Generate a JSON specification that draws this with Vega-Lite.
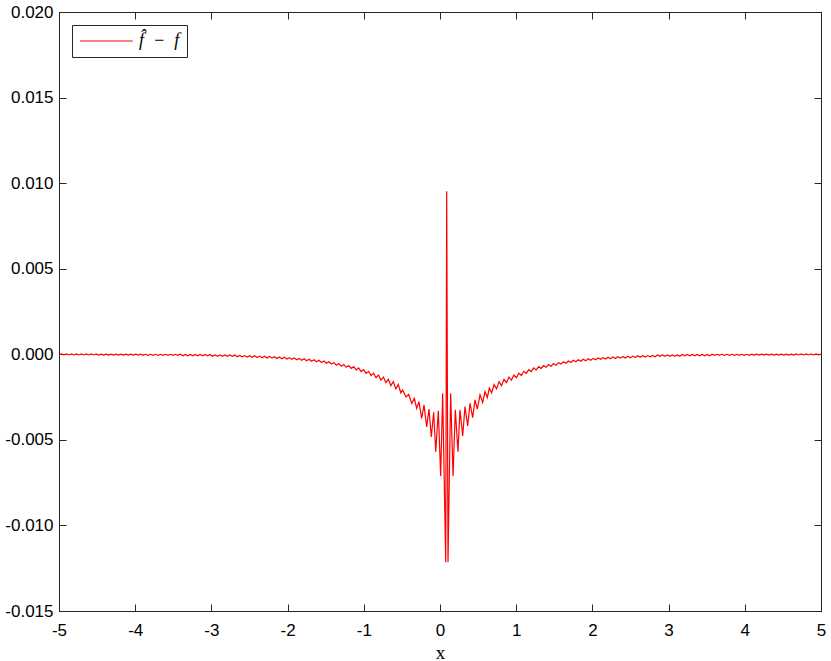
{
"$schema": "https://vega.github.io/schema/vega-lite/v6.json",
"width": 762, "height": 599,
"autosize": {"type": "none"},
"padding": {"left": 59, "top": 12, "right": 10, "bottom": 50},
"background": "white",
"config": {
 "view": {"stroke": "#262626", "strokeWidth": 1},
 "axis": {"grid": false, "domainColor": "#262626", "tickColor": "#262626", "tickSize": -7, "labelFont": "Liberation Sans", "labelFontSize": 17, "labelColor": "#000000", "labelFlush": false, "labelOverlap": false, "titleFont": "Liberation Serif", "titleFontSize": 19, "titleFontWeight": "normal", "titleColor": "#000000"}
},
"data": {"values": [
{"x":-5,"y":-0.00004},{"x":-4.9675,"y":0.00002},{"x":-4.935,"y":-0.00004},{"x":-4.9025,"y":0.00002},{"x":-4.87,"y":-0.00004},{"x":-4.8375,"y":0.00002},{"x":-4.805,"y":-0.00004},{"x":-4.7725,"y":0.00002},{"x":-4.74,"y":-0.00004},{"x":-4.7075,"y":0.00002},{"x":-4.675,"y":-0.00004},{"x":-4.6425,"y":0.00002},{"x":-4.61,"y":-0.00004},{"x":-4.5775,"y":0.00002},{"x":-4.545,"y":-0.00004},{"x":-4.5125,"y":0.00002},
{"x":-4.48,"y":-0.00005},{"x":-4.4475,"y":0.00001},{"x":-4.415,"y":-0.00005},{"x":-4.3825,"y":0.00001},{"x":-4.35,"y":-0.00005},{"x":-4.3175,"y":0.00001},{"x":-4.285,"y":-0.00005},{"x":-4.2525,"y":0.00001},{"x":-4.22,"y":-0.00005},{"x":-4.1875,"y":0.00001},{"x":-4.155,"y":-0.00005},{"x":-4.1225,"y":0.00001},{"x":-4.09,"y":-0.00005},{"x":-4.0575,"y":0.00001},{"x":-4.025,"y":-0.00005},{"x":-3.9925,"y":0.00001},{"x":-3.96,"y":-0.00005},{"x":-3.9275,"y":0.00001},
{"x":-3.895,"y":-0.00006},{"x":-3.8625,"y":0},{"x":-3.83,"y":-0.00006},{"x":-3.7975,"y":0},{"x":-3.765,"y":-0.00006},{"x":-3.7325,"y":0},{"x":-3.7,"y":-0.00006},{"x":-3.6675,"y":0},{"x":-3.635,"y":-0.00006},{"x":-3.6025,"y":0},{"x":-3.57,"y":-0.00006},{"x":-3.5375,"y":0},{"x":-3.505,"y":-0.00006},{"x":-3.4725,"y":0},{"x":-3.44,"y":-0.00006},{"x":-3.4075,"y":0},
{"x":-3.375,"y":-0.00009},{"x":-3.3425,"y":-0.00001},{"x":-3.31,"y":-0.00009},{"x":-3.2775,"y":-0.00001},{"x":-3.245,"y":-0.00009},{"x":-3.2125,"y":-0.00001},{"x":-3.18,"y":-0.00009},{"x":-3.1475,"y":-0.00001},{"x":-3.115,"y":-0.00009},{"x":-3.0825,"y":-0.00001},{"x":-3.05,"y":-0.00009},{"x":-3.0175,"y":-0.00001},
{"x":-2.985,"y":-0.00012},{"x":-2.9525,"y":-0.00004},{"x":-2.92,"y":-0.00012},{"x":-2.8875,"y":-0.00004},{"x":-2.855,"y":-0.00012},{"x":-2.8225,"y":-0.00004},{"x":-2.79,"y":-0.00012},{"x":-2.7575,"y":-0.00004},{"x":-2.725,"y":-0.00012},{"x":-2.6925,"y":-0.00004},
{"x":-2.66,"y":-0.00014},{"x":-2.6275,"y":-0.000065},{"x":-2.595,"y":-0.00015},{"x":-2.5625,"y":-0.000075},{"x":-2.53,"y":-0.00016},{"x":-2.4975,"y":-0.000085},{"x":-2.465,"y":-0.000175},{"x":-2.4325,"y":-0.00009},{"x":-2.4,"y":-0.000185},{"x":-2.3675,"y":-0.000105},{"x":-2.335,"y":-0.0002},{"x":-2.3025,"y":-0.000115},{"x":-2.27,"y":-0.000215},{"x":-2.2375,"y":-0.00013},{"x":-2.205,"y":-0.000225},{"x":-2.1725,"y":-0.000145},{"x":-2.14,"y":-0.000245},{"x":-2.1075,"y":-0.00016},{"x":-2.075,"y":-0.00026},{"x":-2.0425,"y":-0.000175},{"x":-2.01,"y":-0.000275},{"x":-1.9775,"y":-0.000195},{"x":-1.945,"y":-0.000295},{"x":-1.9125,"y":-0.000215},{"x":-1.88,"y":-0.000315},{"x":-1.8475,"y":-0.00024},{"x":-1.815,"y":-0.00035},{"x":-1.7825,"y":-0.00026},{"x":-1.75,"y":-0.000375},{"x":-1.7175,"y":-0.00029},{"x":-1.685,"y":-0.00041},{"x":-1.6525,"y":-0.000315},{"x":-1.62,"y":-0.00044},{"x":-1.5875,"y":-0.00035},{"x":-1.555,"y":-0.00048},{"x":-1.5225,"y":-0.00039},{"x":-1.49,"y":-0.00052},{"x":-1.4575,"y":-0.000435},{"x":-1.425,"y":-0.000575},{"x":-1.3925,"y":-0.00049},{"x":-1.36,"y":-0.000635},{"x":-1.3275,"y":-0.000545},{"x":-1.295,"y":-0.0007},{"x":-1.2625,"y":-0.0006},{"x":-1.23,"y":-0.00076},{"x":-1.1975,"y":-0.00066},{"x":-1.165,"y":-0.00083},{"x":-1.1325,"y":-0.000725},{"x":-1.1,"y":-0.00091},{"x":-1.0675,"y":-0.0008},{"x":-1.035,"y":-0.00101},{"x":-1.0025,"y":-0.0009},{"x":-0.97,"y":-0.00112},{"x":-0.9375,"y":-0.000995},{"x":-0.905,"y":-0.00124},{"x":-0.8725,"y":-0.0011},{"x":-0.84,"y":-0.00137},{"x":-0.8075,"y":-0.00121},{"x":-0.775,"y":-0.001505},{"x":-0.7425,"y":-0.00133},{"x":-0.71,"y":-0.00165},{"x":-0.6775,"y":-0.00146},{"x":-0.645,"y":-0.00183},{"x":-0.6125,"y":-0.0016},{"x":-0.58,"y":-0.00202},{"x":-0.5475,"y":-0.00177},{"x":-0.515,"y":-0.00225},
{"x":-0.49,"y":-0.00208},{"x":-0.446,"y":-0.00249},{"x":-0.411,"y":-0.00234},{"x":-0.371,"y":-0.00287},{"x":-0.337,"y":-0.00257},{"x":-0.306,"y":-0.00316},{"x":-0.276,"y":-0.00277},{"x":-0.24,"y":-0.00375},{"x":-0.21,"y":-0.00296},{"x":-0.175,"y":-0.00424},{"x":-0.144,"y":-0.0032},{"x":-0.114,"y":-0.00483},{"x":-0.083,"y":-0.00339},{"x":-0.056,"y":-0.0057},{"x":-0.022,"y":-0.0033},{"x":0.009,"y":-0.00712},{"x":0.035,"y":-0.00228},{"x":0.075,"y":-0.01215},{"x":0.088,"y":0.00952},{"x":0.105,"y":-0.01215},{"x":0.14,"y":-0.00228},{"x":0.171,"y":-0.00712},{"x":0.201,"y":-0.00325},{"x":0.236,"y":-0.00569},{"x":0.262,"y":-0.00325},{"x":0.298,"y":-0.00477},{"x":0.328,"y":-0.00306},{"x":0.363,"y":-0.00419},{"x":0.394,"y":-0.00286},{"x":0.429,"y":-0.0037},{"x":0.459,"y":-0.00266},{"x":0.49,"y":-0.00321},{"x":0.525,"y":-0.00237},{"x":0.56,"y":-0.00282},{"x":0.591,"y":-0.00218},{"x":0.621,"y":-0.00253},{"x":0.647,"y":-0.00198},
{"x":0.6775,"y":-0.00225},{"x":0.71,"y":-0.00177},{"x":0.7425,"y":-0.00202},{"x":0.775,"y":-0.0016},{"x":0.8075,"y":-0.00183},{"x":0.84,"y":-0.00146},{"x":0.8725,"y":-0.00165},{"x":0.905,"y":-0.00133},{"x":0.9375,"y":-0.001505},{"x":0.97,"y":-0.00121},{"x":1.0025,"y":-0.00137},{"x":1.035,"y":-0.0011},{"x":1.0675,"y":-0.00124},{"x":1.1,"y":-0.000995},{"x":1.1325,"y":-0.00112},{"x":1.165,"y":-0.0009},{"x":1.1975,"y":-0.00101},{"x":1.23,"y":-0.0008},{"x":1.2625,"y":-0.00091},{"x":1.295,"y":-0.000725},{"x":1.3275,"y":-0.00083},{"x":1.36,"y":-0.00066},{"x":1.3925,"y":-0.00076},{"x":1.425,"y":-0.0006},{"x":1.4575,"y":-0.0007},{"x":1.49,"y":-0.000545},{"x":1.5225,"y":-0.000635},{"x":1.555,"y":-0.00049},{"x":1.5875,"y":-0.000575},{"x":1.62,"y":-0.000435},{"x":1.6525,"y":-0.00052},{"x":1.685,"y":-0.00039},{"x":1.7175,"y":-0.00048},{"x":1.75,"y":-0.00035},{"x":1.7825,"y":-0.00044},{"x":1.815,"y":-0.000315},{"x":1.8475,"y":-0.00041},{"x":1.88,"y":-0.00029},{"x":1.9125,"y":-0.000375},{"x":1.945,"y":-0.00026},{"x":1.9775,"y":-0.00035},{"x":2.01,"y":-0.00024},{"x":2.0425,"y":-0.000315},{"x":2.075,"y":-0.000215},{"x":2.1075,"y":-0.000295},{"x":2.14,"y":-0.000195},{"x":2.1725,"y":-0.000275},{"x":2.205,"y":-0.000175},{"x":2.2375,"y":-0.00026},{"x":2.27,"y":-0.00016},{"x":2.3025,"y":-0.000245},{"x":2.335,"y":-0.000145},{"x":2.3675,"y":-0.000225},{"x":2.4,"y":-0.00013},{"x":2.4325,"y":-0.000215},{"x":2.465,"y":-0.000115},{"x":2.4975,"y":-0.0002},{"x":2.53,"y":-0.000105},{"x":2.5625,"y":-0.000185},{"x":2.595,"y":-0.00009},{"x":2.6275,"y":-0.000175},{"x":2.66,"y":-0.000085},{"x":2.6925,"y":-0.00016},{"x":2.725,"y":-0.000075},{"x":2.7575,"y":-0.00015},{"x":2.79,"y":-0.000065},{"x":2.8225,"y":-0.00014},{"x":2.855,"y":-0.00004},
{"x":2.8875,"y":-0.00012},{"x":2.92,"y":-0.00004},{"x":2.9525,"y":-0.00012},{"x":2.985,"y":-0.00004},{"x":3.0175,"y":-0.00012},{"x":3.05,"y":-0.00004},{"x":3.0825,"y":-0.00012},{"x":3.115,"y":-0.00004},{"x":3.1475,"y":-0.00012},
{"x":3.18,"y":-0.00001},{"x":3.2125,"y":-0.00009},{"x":3.245,"y":-0.00001},{"x":3.2775,"y":-0.00009},{"x":3.31,"y":-0.00001},{"x":3.3425,"y":-0.00009},{"x":3.375,"y":-0.00001},{"x":3.4075,"y":-0.00009},{"x":3.44,"y":-0.00001},{"x":3.4725,"y":-0.00009},{"x":3.505,"y":-0.00001},{"x":3.5375,"y":-0.00009},
{"x":3.57,"y":0},{"x":3.6025,"y":-0.00006},{"x":3.635,"y":0},{"x":3.6675,"y":-0.00006},{"x":3.7,"y":0},{"x":3.7325,"y":-0.00006},{"x":3.765,"y":0},{"x":3.7975,"y":-0.00006},{"x":3.83,"y":0},{"x":3.8625,"y":-0.00006},{"x":3.895,"y":0},{"x":3.9275,"y":-0.00006},{"x":3.96,"y":0},{"x":3.9925,"y":-0.00006},{"x":4.025,"y":0},{"x":4.0575,"y":-0.00006},
{"x":4.09,"y":0.00001},{"x":4.1225,"y":-0.00005},{"x":4.155,"y":0.00001},{"x":4.1875,"y":-0.00005},{"x":4.22,"y":0.00001},{"x":4.2525,"y":-0.00005},{"x":4.285,"y":0.00001},{"x":4.3175,"y":-0.00005},{"x":4.35,"y":0.00001},{"x":4.3825,"y":-0.00005},{"x":4.415,"y":0.00001},{"x":4.4475,"y":-0.00005},{"x":4.48,"y":0.00001},{"x":4.5125,"y":-0.00005},{"x":4.545,"y":0.00001},{"x":4.5775,"y":-0.00005},{"x":4.61,"y":0.00001},{"x":4.6425,"y":-0.00005},
{"x":4.675,"y":0.00002},{"x":4.7075,"y":-0.00004},{"x":4.74,"y":0.00002},{"x":4.7725,"y":-0.00004},{"x":4.805,"y":0.00002},{"x":4.8375,"y":-0.00004},{"x":4.87,"y":0.00002},{"x":4.9025,"y":-0.00004},{"x":4.935,"y":0.00002},{"x":4.9675,"y":-0.00004},{"x":5,"y":0.00002}
]},
"layer": [
 {"mark": {"type": "line", "strokeWidth": 1.2, "clip": true},
  "encoding": {
   "x": {"field": "x", "type": "quantitative", "scale": {"domain": [-5, 5], "nice": false, "zero": false},
         "axis": {"orient": "bottom", "values": [-5,-4,-3,-2,-1,0,1,2,3,4,5], "labelPadding": 18, "labelExpr": "replace(format(datum.value,'d'),'\u2212','-')", "title": "x", "titlePadding": 5}},
   "y": {"field": "y", "type": "quantitative", "scale": {"domain": [-0.015, 0.02], "nice": false, "zero": false},
         "axis": {"orient": "left", "values": [-0.015,-0.01,-0.005,0,0.005,0.01,0.015,0.02], "labelPadding": 13, "labelExpr": "replace(format(datum.value,'.3f'),'\u2212','-')", "title": null}},
   "color": {"datum": "f\u0302\u2002\u2212\u2002f", "scale": {"range": ["#ff0000"]},
     "legend": {"title": null, "orient": "top-left", "offset": 13, "strokeColor": "#262626", "fillColor": "white", "padding": 7, "symbolType": "M-1,0H5.6", "symbolSize": 256, "symbolStrokeWidth": 1.2, "labelFont": "Liberation Serif", "labelFontStyle": "italic", "labelFontSize": 18, "labelColor": "#000000", "labelOffset": 42}}
  }},
 {"mark": {"type": "point", "opacity": 0},
  "encoding": {
   "x": {"field": "x", "type": "quantitative", "axis": {"orient": "top", "values": [-5,-4,-3,-2,-1,0,1,2,3,4,5], "labels": false, "title": null}},
   "y": {"field": "y", "type": "quantitative", "axis": {"orient": "right", "values": [-0.015,-0.01,-0.005,0,0.005,0.01,0.015,0.02], "labels": false, "title": null}}
  }}
],
"resolve": {"axis": {"x": "independent", "y": "independent"}}
}
